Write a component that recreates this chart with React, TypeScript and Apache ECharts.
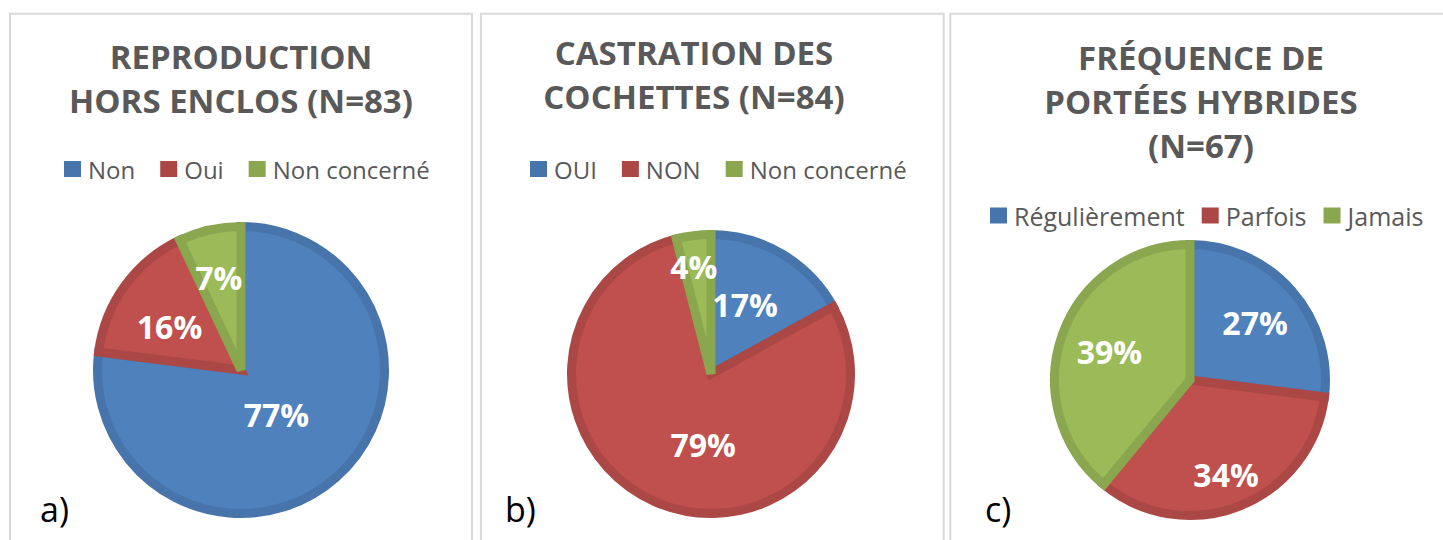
import React, { useEffect, useRef } from "react";
import * as echarts from "echarts";

const FONT = "'Open Sans', 'DejaVu Sans', sans-serif";

// Panel a)
const namesA = ["Non", "Oui", "Non concerné"];
const valuesA = [77, 16, 7];
// Panel b)
const namesB = ["OUI", "NON", "Non concerné"];
const valuesB = [17, 79, 4];
// Panel c)
const namesC = ["Régulièrement", "Parfois", "Jamais"];
const valuesC = [27, 34, 39];

const titles = [
  "REPRODUCTION\nHORS ENCLOS (N=83)",
  "CASTRATION DES\nCOCHETTES (N=84)",
  "FRÉQUENCE DE\nPORTÉES HYBRIDES\n(N=67)",
];
const panelTags = ["a)", "b)", "c)"];

const fills = ["#4F81BD", "#C0504D", "#9BBB59"];
const strokes = ["#4774AA", "#AB4845", "#8AA74F"];

const labelOffsets = {
  a: [[-14, -12], [-11, 0], [-6, -20]],
  b: [[-3, -7], [21, 4], [-8, -35]],
  c: [[12, -11], [10, 29], [-14, -5]],
};

function buildData(names: string[], values: number[], offs: number[][]) {
  return names.map((n, i) => ({
    name: n,
    value: values[i],
    itemStyle: { color: fills[i], borderColor: strokes[i] },
    label: { offset: offs[i] },
  }));
}

function legendData(names: string[]) {
  return names.map((n, i) => ({ name: n, itemStyle: { color: strokes[i], borderWidth: 0 } }));
}

export default function App() {
  const ref = useRef<HTMLDivElement>(null);
  useEffect(() => {
    if (!ref.current) return;
    const chart = echarts.init(ref.current, undefined, { renderer: "svg" });
    const BW = 9;
    const pieBase = {
      type: "pie",
      startAngle: 90,
      clockwise: true,
      silent: true,
      labelLine: { show: false },
      emphasis: { disabled: true },
      itemStyle: { borderWidth: BW, borderJoin: "miter" },
      label: {
        show: true,
        position: "inside",
        formatter: "{c}%",
        color: "#ffffff",
        fontFamily: FONT,
        fontWeight: "bold",
        fontSize: 32,
      },
    };
    const titleBase = {
      textAlign: "center",
      textStyle: {
        fontFamily: FONT,
        fontWeight: "bold",
        fontSize: 33,
        color: "#595959",
        lineHeight: 44,
      },
    };
    const legendBase = {
      orient: "horizontal",
      icon: "rect",
      itemWidth: 17,
      itemHeight: 16,
      padding: 0,
      selectedMode: false,
      textStyle: { fontFamily: FONT, fontSize: 24, color: "#595959", padding: [0, 0, 0, 2] },
    };
    const option: any = {
      animation: false,
      backgroundColor: "#ffffff",
      title: [
        { ...titleBase, text: titles[0], left: 236, top: 29 },
        { ...titleBase, text: titles[1], left: 689, top: 25 },
        { ...titleBase, text: titles[2], left: 1196, top: 30 },
      ],
      legend: [
        { ...legendBase, data: legendData(namesA), left: 64, top: 157, itemGap: 25 },
        { ...legendBase, data: legendData(namesB), left: 530, top: 157, itemGap: 25 },
        {
          ...legendBase,
          data: legendData(namesC),
          left: 990,
          top: 203,
          itemGap: 17,
          textStyle: { ...legendBase.textStyle, fontSize: 25 },
        },
      ],
      graphic: [
        { type: "rect", shape: { x: 10, y: 13.7, width: 462, height: 560 }, style: { fill: "none", stroke: "#D9D9D9", lineWidth: 2 }, silent: true },
        { type: "rect", shape: { x: 481, y: 13.7, width: 462.7, height: 560 }, style: { fill: "none", stroke: "#D9D9D9", lineWidth: 2 }, silent: true },
        { type: "rect", shape: { x: 950.3, y: 13.7, width: 560, height: 560 }, style: { fill: "none", stroke: "#D9D9D9", lineWidth: 2 }, silent: true },
        { type: "text", x: 40, y: 509, style: { text: panelTags[0], font: `34px ${FONT}`, fill: "#000000", textVerticalAlign: "middle" }, silent: true },
        { type: "text", x: 505, y: 509, style: { text: panelTags[1], font: `34px ${FONT}`, fill: "#000000", textVerticalAlign: "middle" }, silent: true },
        { type: "text", x: 985, y: 509, style: { text: panelTags[2], font: `34px ${FONT}`, fill: "#000000", textVerticalAlign: "middle" }, silent: true },
      ],
      series: [
        { ...pieBase, name: "a", center: [241, 370], radius: 148 - BW / 2, data: buildData(namesA, valuesA, labelOffsets.a) },
        { ...pieBase, name: "b", center: [711, 374], radius: 144 - BW / 2, data: buildData(namesB, valuesB, labelOffsets.b) },
        { ...pieBase, name: "c", center: [1190, 380], radius: 140 - BW / 2, data: buildData(namesC, valuesC, labelOffsets.c) },
      ],
    };
    chart.setOption(option);
    return () => chart.dispose();
  }, []);
  return (
    <div
      ref={ref}
      style={{ position: "fixed", left: 0, top: 0, width: 1443, height: 540, background: "#fff" }}
    />
  );
}
